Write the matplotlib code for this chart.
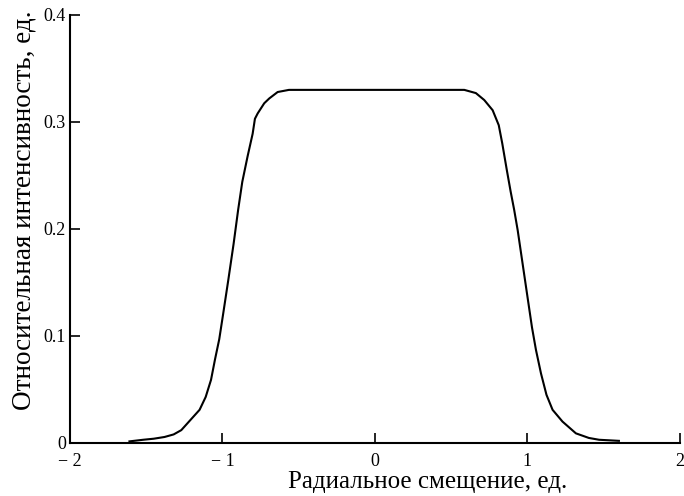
import numpy as np
import matplotlib.pyplot as plt

plt.rcParams['font.family'] = ['Liberation Serif', 'DejaVu Serif']

# radial profile of relative intensity
offset = [-1.61, -1.58, -1.52, -1.45, -1.38, -1.32, -1.27, -1.21, -1.15, -1.11,
          -1.075, -1.049, -1.021, -0.995, -0.962, -0.927, -0.897, -0.87, -0.835, -0.802,
          -0.787, -0.769, -0.726, -0.693, -0.638, -0.564, 0.0, 0.586, 0.662, 0.717,
          0.772, 0.812, 0.835, 0.865, 0.89, 0.913, 0.936, 0.968, 1.001, 1.030,
          1.056, 1.089, 1.125, 1.165, 1.23, 1.318, 1.403, 1.47, 1.6]
intensity = [0.0015, 0.002, 0.003, 0.004, 0.0056, 0.008, 0.012, 0.0215, 0.031, 0.043,
             0.059, 0.078, 0.097, 0.121, 0.152, 0.186, 0.218, 0.244, 0.268, 0.289,
             0.303, 0.308, 0.3175, 0.322, 0.328, 0.330, 0.330, 0.330, 0.327, 0.3205,
             0.311, 0.297, 0.280, 0.255, 0.235, 0.218, 0.199, 0.168, 0.136, 0.108,
             0.087, 0.065, 0.045, 0.031, 0.020, 0.009, 0.0047, 0.003, 0.002]

xticks = [-2, -1, 0, 1, 2]
xticklabels = ['\u2212 2', '\u2212 1', '0', '1', '2']
yticks = [0, 0.1, 0.2, 0.3, 0.4]
yticklabels = ['0', '0.1', '0.2', '0.3', '0.4']

fig = plt.figure(figsize=(6.84, 4.96), dpi=100)
ax = fig.add_axes([0.1023, 0.1069, 0.8917, 0.8629])
ax.plot(offset, intensity, color='black', linewidth=1.5)

ax.set_xlim(-2, 2)
ax.set_ylim(0, 0.4)
ax.set_xticks(xticks)
ax.set_xticklabels(xticklabels)
ax.set_yticks(yticks)
ax.set_yticklabels(yticklabels)

for side in ('top', 'right'):
    ax.spines[side].set_visible(False)
for side in ('left', 'bottom'):
    ax.spines[side].set_linewidth(1.5)

ax.tick_params(direction='in', length=7, width=1.2, labelsize=13)
ax.tick_params(axis='x', pad=7)
ax.tick_params(axis='y', pad=3)

ax.set_xlabel('Радиальное смещение, ед.', fontsize=18)
ax.xaxis.set_label_coords(0.587, -0.066)
ax.set_ylabel('Относительная интенсивность, ед.', fontsize=19.5)
ax.yaxis.set_label_coords(-0.055, 0.544)

fig.savefig('out.png', dpi=100)
